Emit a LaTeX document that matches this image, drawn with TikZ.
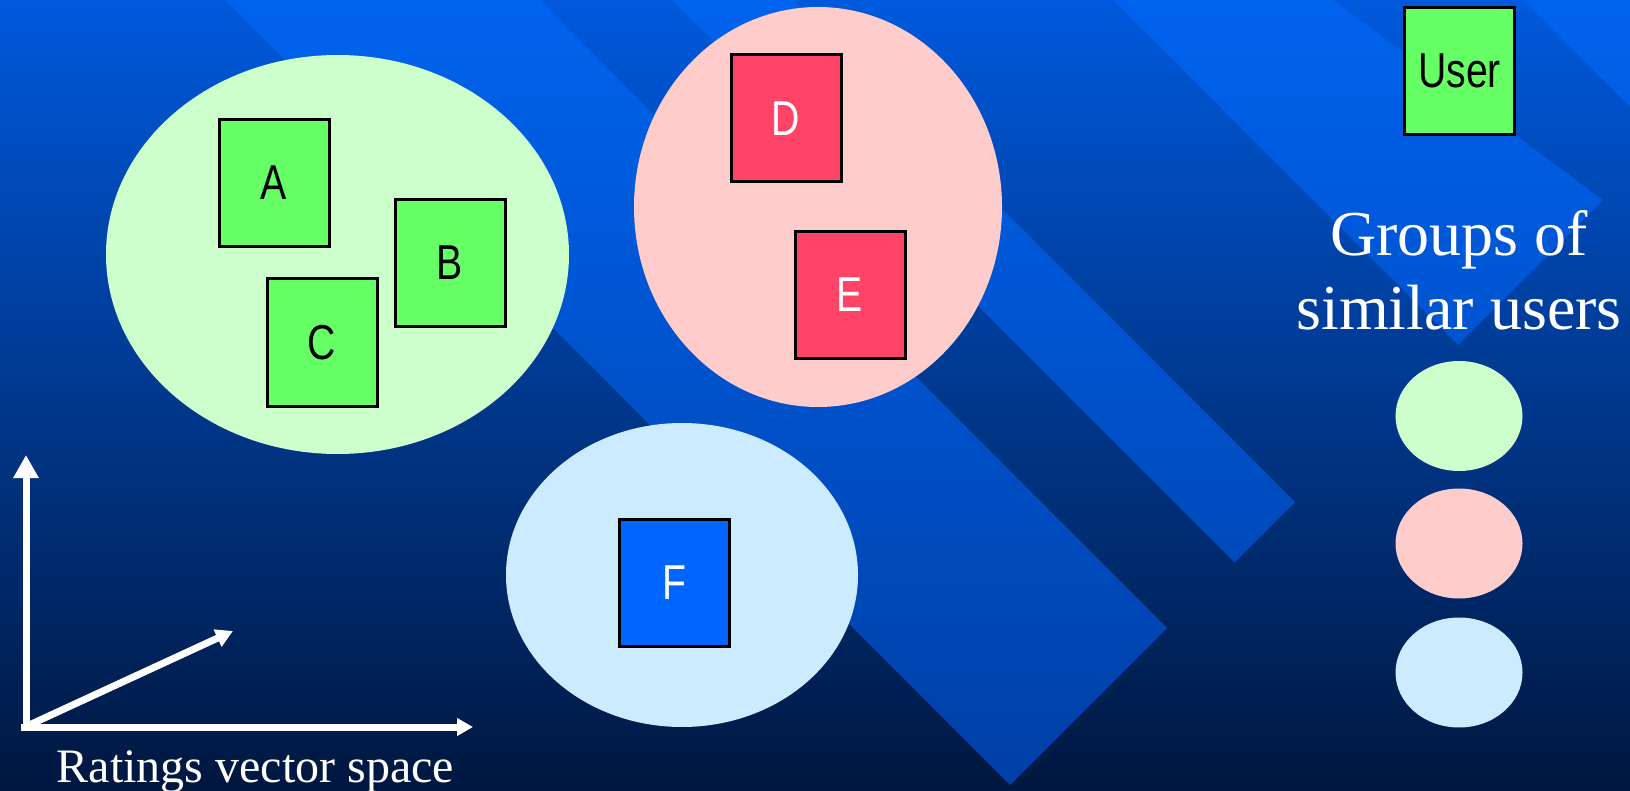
\documentclass[tikz,border=0pt]{standalone}
\usepackage{fontspec}
\setmainfont{Liberation Serif}
\newfontfamily\boxfont[FakeStretch=0.8]{Liberation Sans}
\usetikzlibrary{arrows.meta,shapes.geometric}
\definecolor{bgtop}{HTML}{0059DC}
\definecolor{bgmid}{HTML}{00389A}
\definecolor{bgbot}{HTML}{00173F}
\definecolor{sttop}{HTML}{0063EE}
\definecolor{stmid}{HTML}{0050CA}
\definecolor{stbot}{HTML}{003FA6}
\definecolor{clgreen}{HTML}{CCFFCC}
\definecolor{clpink}{HTML}{FFCCCC}
\definecolor{clblue}{HTML}{CCEBFF}
\definecolor{bxgreen}{HTML}{66FF66}
\definecolor{bxred}{HTML}{FF4468}
\definecolor{bxblue}{HTML}{0066FF}
\begin{document}
\begin{tikzpicture}[x=1pt,y=-1pt,
  cluster/.style={ellipse, draw=none, inner sep=0pt},
  userbox/.style={rectangle, draw=black, line width=3pt, inner sep=0pt,
    minimum width=110pt, minimum height=127pt,
    font=\boxfont\fontsize{49pt}{52pt}\selectfont},
  greenbox/.style={userbox, fill=bxgreen, text=black},
  redbox/.style={userbox, fill=bxred, text=white},
  bluebox/.style={userbox, fill=bxblue, text=white},
  axisline/.style={draw=white, line width=7pt},
  caption/.style={text=white, inner sep=0pt, anchor=base}]
\useasboundingbox (0,0) rectangle (1630,791);
% background
\shade[top color=bgtop, middle color=bgmid, bottom color=bgbot] (0,0) rectangle (1630,791);
% stripes
\foreach \poly in {
  {(225,0)--(539,0)--(1167,628)--(1010,785)--cycle},
  {(672,0)--(793,0)--(1295,502)--(1234.5,562.5)--cycle},
  {(1113,0)--(1333,0)--(1603,200)--(1458,345)--cycle},
  {(1523,0)--(1630,0)--(1630,107)--cycle}}{
  \begin{scope}
    \clip \poly;
    \shade[top color=sttop, middle color=stmid, bottom color=stbot] (0,0) rectangle (1630,791);
  \end{scope}
}
% clusters
\node[cluster, fill=clgreen, minimum width=463pt, minimum height=399pt] (g1) at (337.5,254.5) {};
\node[cluster, fill=clpink, minimum width=368pt, minimum height=400pt] (g2) at (818,207) {};
\node[cluster, fill=clblue, minimum width=352pt, minimum height=304pt] (g3) at (682,575) {};
% users
\node[greenbox] (A) at (274,183) {A};
\node[greenbox] (B) at (450,263) {B};
\node[greenbox] (C) at (322,342.5) {C};
\node[redbox] (D) at (786,118.5) {D};
\node[redbox] (E) at (850,295) {E};
\node[bluebox] (F) at (674,583) {F};
% legend
\node[greenbox] (U) at (1459.5,71) {User};
\node[caption, font=\fontsize{64pt}{74pt}\selectfont] (t1) at (1459,256) {Groups of};
\node[caption, font=\fontsize{64pt}{74pt}\selectfont] (t2) at (1459,330) {similar users};
\node[cluster, fill=clgreen, minimum width=127pt, minimum height=110pt] (l1) at (1459,416) {};
\node[cluster, fill=clpink, minimum width=127pt, minimum height=110pt] (l2) at (1459,543.5) {};
\node[cluster, fill=clblue, minimum width=127pt, minimum height=110pt] (l3) at (1459,672.5) {};
% axes
\coordinate (O) at (25,727);
\coordinate (Ob) at (26,731);
\coordinate (Ol) at (21,727);
\coordinate (Yt) at (26,455);
\coordinate (Xt) at (473,727);
\coordinate (Dt) at (233,631);
\draw[axisline, -{Triangle[length=23pt,width=24pt]}] (Ob) -- (Yt);
\draw[axisline, -{Triangle[length=16pt,width=17pt]}] (Ol) -- (Xt);
\draw[axisline, -{Triangle[length=17pt,width=18pt]}] (O) -- (Dt);
\node[caption, font=\fontsize{48pt}{56pt}\selectfont] (cap) at (255.5,782) {Ratings vector space};
\end{tikzpicture}
\end{document}
